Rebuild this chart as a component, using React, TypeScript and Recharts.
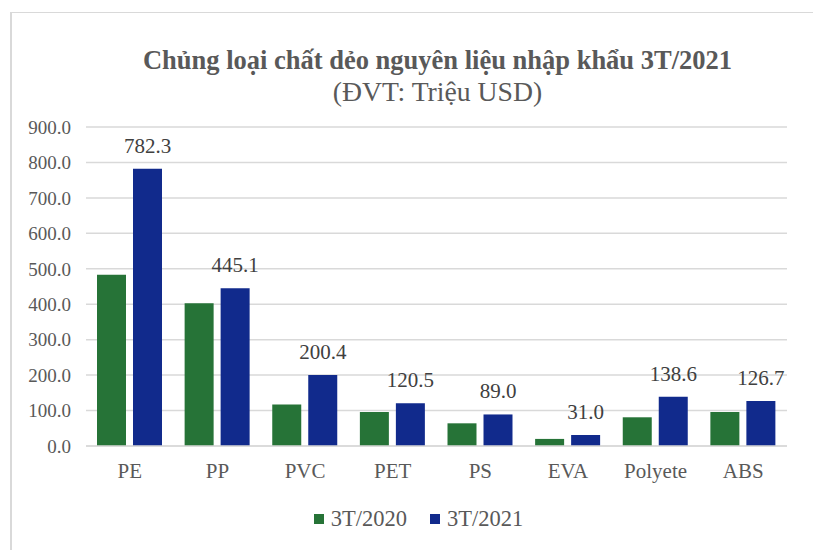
import { Bar, BarChart, CartesianGrid, LabelList, Legend, XAxis, YAxis } from "recharts";

const categories = ["PE", "PP", "PVC", "PET", "PS", "EVA", "Polyete", "ABS"];
const values2020 = [483, 403, 117, 96, 64, 20, 81, 96];
const values2021 = [782.3, 445.1, 200.4, 120.5, 89.0, 31.0, 138.6, 126.7];
const yTicks = [0, 100, 200, 300, 400, 500, 600, 700, 800, 900];

const data = categories.map((name, i) => ({
  name,
  y2020: values2020[i],
  y2021: values2021[i],
}));

const FONT = '"Liberation Serif", "Times New Roman", serif';
const TEXT = "#595959";

function LegendContent({ payload }: { payload?: any[] }) {
  return (
    <div style={{ display: "flex", justifyContent: "center", height: 26, lineHeight: "26px", paddingLeft: 50 }}>
      {(payload || []).map((p, i) => (
        <span key={p.value} style={{ display: "flex", alignItems: "center", marginLeft: i === 0 ? 0 : 23 }}>
          <span style={{ width: 10, height: 10, background: p.color, display: "inline-block", marginRight: 7 }} />
          <span style={{ color: TEXT, fontSize: 22.5, fontFamily: FONT }}>{p.value}</span>
        </span>
      ))}
    </div>
  );
}

export default function App() {
  return (
    <div style={{ position: "absolute", left: 0, top: 0, width: 813, height: 550, background: "#fff", fontFamily: FONT }}>
      <div
        style={{
          position: "absolute",
          left: 10,
          top: 12,
          right: 0,
          bottom: 0,
          borderTop: "1px solid #d9d9d9",
          borderLeft: "2px solid #d9d9d9",
        }}
      />
      <div style={{ position: "absolute", left: 62, right: 0, top: 45, textAlign: "center", color: TEXT }}>
        <div style={{ fontSize: 26.5, fontWeight: "bold", lineHeight: "31px" }}>
          Chủng loại chất dẻo nguyên liệu nhập khẩu 3T/2021
        </div>
        <div style={{ fontSize: 27.7, lineHeight: "31px" }}>(ĐVT: Triệu USD)</div>
      </div>
      <BarChart
        width={813}
        height={550}
        data={data}
        margin={{ top: 127, right: 26, bottom: 18, left: 0 }}
        barCategoryGap={11}
        barGap={7}
        style={{ position: "absolute", left: 0, top: 0, fontFamily: FONT }}
      >
        <CartesianGrid stroke="#d9d9d9" strokeWidth={1.5} vertical={false} />
        <XAxis
          dataKey="name"
          axisLine={{ stroke: "#d9d9d9", strokeWidth: 1.5 }}
          tickLine={false}
          tick={{ fontSize: 21, fill: TEXT, fontFamily: FONT }}
          tickMargin={11}
          height={60}
        />
        <YAxis
          domain={[0, 900]}
          ticks={yTicks}
          width={86}
          axisLine={false}
          tickLine={false}
          tickMargin={9}
          tickFormatter={(v: number) => v.toFixed(1)}
          tick={{ fontSize: 19, fill: TEXT, fontFamily: FONT }}
        />
        <Legend
          verticalAlign="bottom"
          align="center"
          content={<LegendContent />}
          wrapperStyle={{ height: 26 }}
        />
        <Bar dataKey="y2020" name="3T/2020" fill="#267337" isAnimationActive={false} />
        <Bar dataKey="y2021" name="3T/2021" fill="#112A8C" isAnimationActive={false}>
          <LabelList
            dataKey="y2021"
            position="top"
            offset={16}
            formatter={(v: number) => v.toFixed(1)}
            style={{ fontSize: 21, fill: "#404040", fontFamily: FONT }}
          />
        </Bar>
      </BarChart>
    </div>
  );
}
